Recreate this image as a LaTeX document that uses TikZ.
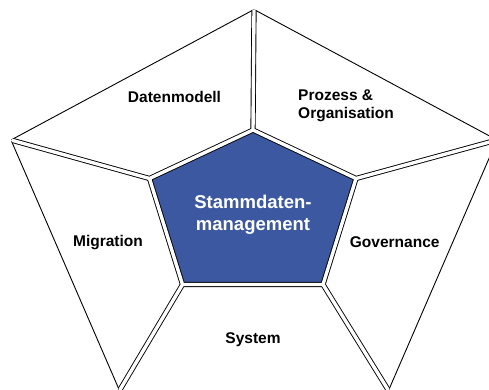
\documentclass[tikz,border=0pt]{standalone}
\usepackage{fontspec}
\setmainfont{Liberation Sans}
\usetikzlibrary{calc}
\definecolor{smblue}{RGB}{60,88,160}
\begin{document}
\begin{tikzpicture}[x=1pt,y=-1pt,
  outeredge/.style={draw=black,line width=0.9pt},
  inneredge/.style={draw=black,line width=0.9pt,double=white,double distance=3.4pt,line join=miter},
  gapend/.style={draw=white,line width=3.4pt},
  lbl/.style={font=\fontsize{15.5}{18}\selectfont\bfseries,anchor=base,inner sep=0pt},
  clbl/.style={font=\fontsize{18.5}{22}\selectfont\bfseries,text=white,anchor=base,inner sep=0pt}]
\useasboundingbox (0,0) rectangle (489,390);
% outer vertices
\coordinate (OT) at (254,9.5);
\coordinate (OL) at (11,140);
\coordinate (OR) at (497,140);
\coordinate (OBL) at (119.5,390.5);
\coordinate (OBR) at (388.5,390.5);
% inner pentagon
\coordinate (T) at (253,130);
\coordinate (UL) at (149.5,178.5);
\coordinate (UR) at (356,178.5);
\coordinate (LL) at (182.5,284.5);
\coordinate (LR) at (323,284.5);
% centre fill
\fill[smblue] (T)--(UR)--(LR)--(LL)--(UL)--cycle;
% outer edges
\draw[outeredge] (OT)--(OL);
\draw[outeredge] (OL)--(OBL);
\draw[outeredge] (OT)--(OR);
\draw[outeredge] (OR)--(OBR);
% spokes and pentagon border as double lines
\begin{scope}
\clip (OT)--(OR)--(OBR)--(OBL)--(OL)--cycle;
\draw[inneredge] (T)--(OT) (UL)--(OL) (UR)--(OR) (LL)--(OBL) (LR)--(OBR)
  (T)--(UR)--(LR)--(LL)--(UL)--cycle;
\end{scope}
% open the gaps at the outer vertices
\draw[gapend] (OT) -- ($(OT)!-6pt!(T)$);
\draw[gapend] (OL) -- ($(OL)!-6pt!(UL)$);
\draw[gapend] (OR) -- ($(OR)!-6pt!(UR)$);
\draw[gapend] (OBL) -- ($(OBL)!-6pt!(LL)$);
\draw[gapend] (OBR) -- ($(OBR)!-6pt!(LR)$);
% labels
\node[lbl] (dm) at (174.5,102.3) {Datenmodell};
\node[lbl,anchor=base west] (pz1) at (298,100.5) {Prozess \&};
\node[lbl,anchor=base west] (pz2) at (298,118.5) {Organisation};
\node[lbl] (mig) at (108,246.7) {Migration};
\node[lbl] (gov) at (394.7,247) {Governance};
\node[lbl] (sys) at (253,343) {System};
\node[clbl] (st1) at (253,208) {Stammdaten-};
\node[clbl] (st2) at (253,230) {management};
\end{tikzpicture}
\end{document}
